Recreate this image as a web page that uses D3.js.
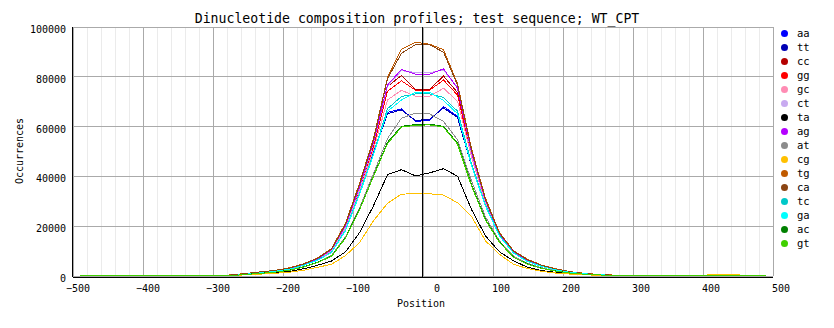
<!DOCTYPE html>
<html><head><meta charset="utf-8">
<script src="https://cdn.jsdelivr.net/npm/d3@7"></script>
<style>
body{margin:0;background:#fff}
svg{display:block}
text{font-family:"DejaVu Sans Mono",monospace;fill:#000}
</style>
</head><body>
<svg id="chart" width="834" height="328"></svg>
<script>
const titleText = "Dinucleotide composition profiles; test sequence; WT_CPT";
const xTitle = "Position";
const yTitle = "Occurrences";
const positions = [-490,-470,-450,-430,-410,-390,-370,-350,-330,-310,-290,
  -270,-250,-230,-210,-190,-170,-150,-130,-110,-90,-70,-50,
  -30,-10,10,30,
  50,70,90,110,130,150,170,190,210,230,250,270,
  290,310,330,350,370,390,410,430,450,470,490];
const xTickValues = [-500,-400,-300,-200,-100,0,100,200,300,400,500];
const xMinorTickValues = [-480,-460,-440,-420,-380,-360,-340,-320,-280,-260,-240,-220,-180,-160,-140,-120,-80,-60,-40,-20,20,40,60,80,120,140,160,180,220,240,260,280,320,340,360,380,420,440,460,480];
const yTickValues = [0,20000,40000,60000,80000,100000];
const seriesNames = ["aa","tt","cc","gg","gc","ct","ta","ag","at","cg","tg","ca","tc","ga","ac","gt"];
const seriesColors = ["#0000ff","#0000b4","#b40000","#ff0000","#ff8cb4","#c8aaf0","#000000","#b400ff","#8c8c8c","#ffc000","#c05a00","#8b4513","#00c8c8","#00ffff","#008000","#40d000"];

const aa = [0,0,0,0,0,0,0,0,0,0,0, 0,580,1100,1700,2550,4100,6300,9200,18500,33000,49200,65500, 66900,61900,62300,67900, 63900,44500,28000,15900,9100,5700,3700,2300,1300,720,330,100, 0,0,0,0,0,0,0,0,0,0,0];
const tt = [0,0,0,0,0,0,0,0,0,0,0, 0,570,1100,1700,2500,4050,6200,9100,18300,32700,49000,65000, 66500,62300,62700,67300, 63500,44000,27800,15800,9000,5600,3650,2250,1280,700,320,100, 0,0,0,0,0,0,0,0,0,0,0];
const cc = [0,0,0,0,0,0,0,0,0,0,0, 0,650,1250,1850,2750,4300,6500,10200,19700,35000,52500,76000, 80300,74700,74700,80100, 73500,49500,30000,16700,9600,6100,4000,2500,1450,800,380,100, 0,0,0,0,0,0,0,0,0,0,0];
const gg = [0,0,0,0,0,0,0,0,0,0,0, 0,620,1200,1800,2700,4200,6400,10000,19300,34300,51500,74000, 78200,74400,74400,78500, 72500,48500,29500,16400,9400,6000,3900,2400,1400,760,350,100, 0,0,0,0,0,0,0,0,0,0,0];
const gc = [0,0,0,0,0,0,0,0,0,0,0, 0,600,1150,1750,2600,4150,6300,9700,18800,33500,50500,70500, 74400,72000,72000,75200, 70000,47500,29000,16200,9300,5900,3800,2350,1350,740,340,100, 0,0,0,0,0,0,0,0,0,0,0];
const ct = [0,0,0,0,0,0,0,0,0,0,0, 0,650,1250,1850,2750,4300,6500,10100,19500,35000,53000,76000, 82300,81500,81500,82500, 75500,49000,29800,16500,9500,6000,3900,2450,1400,780,360,100, 0,0,0,0,0,0,0,0,0,0,0];
const ta = [0,0,0,0,0,0,0,0,0,0,0, 0,400,700,1100,1600,2700,4100,5800,9500,17200,28000,40500, 42500,40000,41200,42900, 39900,26500,15900,9500,5900,3300,2000,1300,800,400,150,0, 0,0,0,0,0,0,0,0,0,0,0];
const ag = [0,0,0,0,0,0,0,0,0,0,0, 0,700,1300,1900,2800,4400,6600,10300,20000,35500,53500,76500, 82800,80800,80800,83000, 75200,49500,30000,16700,9600,6100,4000,2500,1450,800,380,100, 0,0,0,0,0,0,0,0,0,0,0];
const at = [0,0,0,0,0,0,0,0,0,0,0, 0,500,950,1450,2200,3500,5300,8000,15500,27000,41000,55000, 63200,65200,64900,61900, 54500,38000,23500,13800,7800,4900,3100,1900,1100,600,280,50, 0,0,0,0,0,0,0,0,0,0,0];
const cg = [0,0,0,0,0,0,0,0,0,0,0, 0,350,600,900,1300,2100,3300,4500,8000,13200,22000,29000, 32700,32800,32800,32300, 29200,23800,13900,8500,4500,2800,1700,1000,600,300,120,0, 0,0,0,0,0,0,250,250,250,0,0];
const tg = [0,0,0,0,0,0,0,0,0,0,0, 300,900,1500,2100,3100,4700,7000,10800,21000,37000,55000,79500, 90900,93700,92900,90700, 77000,51000,31000,17200,10000,6500,4200,2700,1600,900,450,200, 0,0,0,0,0,0,0,0,0,0,0];
const ca = [0,0,0,0,0,0,0,0,0,0,0, 250,850,1450,2050,3000,4600,6900,10600,20500,36500,54500,79000, 89300,92700,92700,89700, 76500,50500,30500,17000,9800,6300,4100,2600,1500,850,400,150, 0,0,0,0,0,0,0,0,0,0,0];
const tc = [0,0,0,0,0,0,0,0,0,0,0, 0,580,1100,1700,2550,4100,6200,9300,18300,33000,49000,67000, 71900,72900,72900,71500, 66000,45000,28300,16000,9100,5700,3700,2300,1300,720,330,100, 0,0,0,0,0,0,0,0,0,0,0];
const ga = [0,0,0,0,0,0,0,0,0,0,0, 0,570,1100,1700,2500,4050,6100,9200,18000,32500,48500,66000, 70500,73600,73600,70300, 65000,44000,27800,15800,9000,5600,3650,2250,1280,700,320,100, 0,0,0,0,0,0,0,0,0,0,0];
const ac = [0,0,0,0,0,0,0,0,0,0,0, 0,480,900,1400,2150,3400,5300,7800,15200,26500,40000,53500, 59900,60600,60800,59900, 53200,36500,22500,13500,7400,4600,2900,1800,1000,550,250,50, 0,0,0,0,0,0,0,0,0,0,0];
const gt = [0,0,0,0,0,0,0,0,0,0,0, 0,470,880,1380,2100,3350,5200,7700,15000,26300,39800,53000, 59600,60300,60500,59600, 52800,36000,22200,13300,7300,4500,2850,1750,1000,550,250,50, 0,0,0,0,0,0,0,0,0,0,0];

const seriesValues = {aa,tt,cc,gg,gc,ct,ta,ag,at,cg,tg,ca,tc,ga,ac,gt};

const svg = d3.select("#chart");
const x = d3.scaleLinear().domain([-500,500]).range([72.5,772.5]);
const y = d3.scaleLinear().domain([0,100000]).range([275.5,26.5]);
const plotH = 249, plotW = 700;

// minor vertical grid
svg.append("g").attr("transform","translate(0,275.5)")
  .call(d3.axisBottom(x).tickValues(xMinorTickValues).tickSize(-plotH).tickFormat(""))
  .call(g=>g.select(".domain").remove())
  .call(g=>g.selectAll("line").attr("stroke","#ebebeb").attr("shape-rendering","crispEdges"));
// major vertical grid
svg.append("g").attr("transform","translate(0,275.5)")
  .call(d3.axisBottom(x).tickValues(xTickValues).tickSize(-plotH).tickFormat(""))
  .call(g=>g.select(".domain").remove())
  .call(g=>g.selectAll("line").attr("stroke","#aaaaaa").attr("shape-rendering","crispEdges"));
// horizontal grid
svg.append("g").attr("transform","translate(72.5,0)")
  .call(d3.axisLeft(y).tickValues(yTickValues).tickSize(-plotW).tickFormat(""))
  .call(g=>g.select(".domain").remove())
  .call(g=>g.selectAll("line").attr("stroke","#aaaaaa").attr("shape-rendering","crispEdges"));

// data lines
const line = d3.line().x((d,i)=>x(positions[i])).y(d=>y(d));
seriesNames.forEach((name,k)=>{
  svg.append("path")
    .datum(seriesValues[name])
    .attr("d",line)
    .attr("fill","none")
    .attr("stroke",seriesColors[k])
    .attr("stroke-width",1)
    .attr("shape-rendering","crispEdges");
});

// zero line
svg.append("line")
  .attr("x1",x(0)).attr("x2",x(0)).attr("y1",y(100000)).attr("y2",276.5)
  .attr("stroke","#000").attr("shape-rendering","crispEdges");

// x axis
const gx = svg.append("g").attr("transform","translate(0,276.5)")
  .call(d3.axisBottom(x).tickValues(xTickValues).tickSize(0).tickSizeOuter(0).tickFormat(d3.format("d")));
gx.select(".domain").attr("stroke","#000").attr("shape-rendering","crispEdges");
gx.selectAll("text").attr("x",17).attr("y",15.5).attr("dy",0)
  .attr("text-anchor","end").style("font-size","10px").style("font-family","'DejaVu Sans Mono',monospace");

// y axis
const gy = svg.append("g").attr("transform","translate(72.5,0)")
  .call(d3.axisLeft(y).tickValues(yTickValues).tickSize(0).tickSizeOuter(0).tickFormat(d3.format("d")));
gy.select(".domain").attr("stroke","#000").attr("shape-rendering","crispEdges").attr("d","M0,276.5V26.5");
gy.selectAll("text").attr("x",-6.5).attr("dy",6)
  .attr("text-anchor","end").style("font-size","10px").style("font-family","'DejaVu Sans Mono',monospace");

// title
svg.append("text").attr("x",417).attr("y",22.5).attr("text-anchor","middle")
  .style("font-size","13.2px").text(titleText);
svg.append("text").attr("x",421).attr("y",307).attr("text-anchor","middle")
  .style("font-size","10px").text(xTitle);
svg.append("text").attr("transform","translate(23,151) rotate(-90)").attr("text-anchor","middle")
  .style("font-size","10px").text(yTitle);

// legend
const lg = svg.append("g");
seriesNames.forEach((name,k)=>{
  const cy = 33.5 + k*14;
  lg.append("circle").attr("cx",784.5).attr("cy",cy).attr("r",3.5).attr("fill",seriesColors[k]);
  lg.append("text").attr("x",797).attr("y",cy+3.8).style("font-size","10.5px").text(name);
});
</script>
</body></html>
